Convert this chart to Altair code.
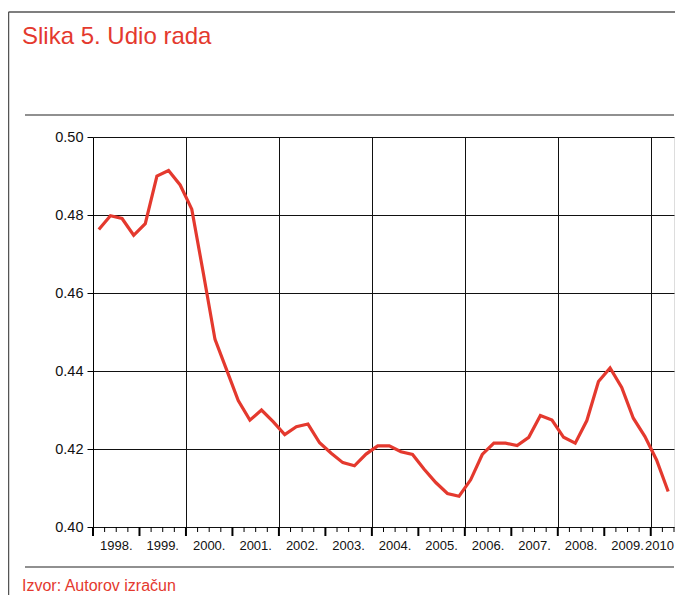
import altair as alt
import pandas as pd

# ---- data (quarterly, 1998 Q1 - 2010 Q2) ----
first_year = 1998
n_quarters = 50
udio = [0.4763, 0.4798, 0.4791, 0.4748, 0.4778, 0.4900, 0.4914, 0.4877, 0.4815, 0.4650,
        0.4481, 0.4403, 0.4324, 0.4274, 0.4300, 0.4270, 0.4237, 0.4257, 0.4264, 0.4216,
        0.4189, 0.4165, 0.4157, 0.4187, 0.4208, 0.4208, 0.4193, 0.4186, 0.4148, 0.4114,
        0.4086, 0.4079, 0.4121, 0.4186, 0.4215, 0.4215, 0.4209, 0.4230, 0.4286, 0.4274,
        0.4230, 0.4215, 0.4273, 0.4373, 0.4408, 0.4358, 0.4279, 0.4232, 0.4172, 0.4091]
years = list(range(1998, 2010))
year_labels = ["1998.", "1999.", "2000.", "2001.", "2002.", "2003.", "2004.",
               "2005.", "2006.", "2007.", "2008.", "2009."]
last_label = "2010"
y_ticks = [0.40, 0.42, 0.44, 0.46, 0.48, 0.50]
grid_years = [2000, 2002, 2004, 2006, 2008, 2010]
x_end = 2010.5

title_text = "Slika 5. Udio rada"
source_text = "Izvor: Autorov izračun"

RED = "#e4392e"
FONT = "Liberation Sans"

W, H = 581, 390

df = pd.DataFrame({
    "t": [first_year + (i + 0.5) / 4 for i in range(n_quarters)],
    "udio": udio,
})

quarter_bounds = [first_year + q / 4 for q in range(int((x_end - first_year) * 4) + 1)]
minor_df = pd.DataFrame({"t": [q for q in quarter_bounds if q != int(q)]})
major_df = pd.DataFrame({"t": [q for q in quarter_bounds if q == int(q)]})
lab_df = pd.DataFrame({"t": [y + 0.5 for y in years], "lab": year_labels})
last_df = pd.DataFrame({"t": [x_end], "lab": [last_label]})

xscale = alt.Scale(domain=[first_year, x_end], nice=False, zero=False)
yscale = alt.Scale(domain=[0.40, 0.50], nice=False, zero=False)

line = alt.Chart(df).mark_line(color=RED, strokeWidth=3.2).encode(
    x=alt.X("t:Q", scale=xscale,
            axis=alt.Axis(values=grid_years, grid=True, gridColor="#111", gridWidth=1,
                          gridOpacity=1, labels=False, ticks=False, domain=False, title=None)),
    y=alt.Y("udio:Q", scale=yscale,
            axis=alt.Axis(values=y_ticks, format=".2f", grid=True, gridColor="#111",
                          gridWidth=1, gridOpacity=1, tickSize=6, tickColor="#000",
                          domainColor="#000", labelFontSize=14.5, labelPadding=4,
                          labelColor="#111", labelFont=FONT, title=None)),
)

minor_ticks = alt.Chart(minor_df).mark_rule(color="#000", strokeWidth=1).encode(
    x=alt.X("t:Q", scale=xscale), y=alt.value(H), y2=alt.value(H + 5))
major_ticks = alt.Chart(major_df).mark_rule(color="#000", strokeWidth=2).encode(
    x=alt.X("t:Q", scale=xscale), y=alt.value(H), y2=alt.value(H + 9))

labels = alt.Chart(lab_df).mark_text(
    fontSize=13, font=FONT, color="#111", align="center", baseline="alphabetic"
).encode(x=alt.X("t:Q", scale=xscale), y=alt.value(H + 23), text="lab:N")
labels_last = alt.Chart(last_df).mark_text(
    fontSize=13, font=FONT, color="#111", align="right", baseline="alphabetic"
).encode(x=alt.X("t:Q", scale=xscale), y=alt.value(H + 23), text="lab:N")

one = pd.DataFrame({"a": [0]})

title = alt.Chart(one).mark_text(
    text=title_text, fontSize=24, font=FONT, color=RED, align="left", baseline="alphabetic"
).encode(x=alt.value(-71), y=alt.value(-93))

source = alt.Chart(one).mark_text(
    text=source_text, fontSize=16, font=FONT, color=RED, align="left", baseline="alphabetic"
).encode(x=alt.value(-71), y=alt.value(454))

rule_top = alt.Chart(one).mark_rule(color="#222", strokeWidth=1.2).encode(
    x=alt.value(-68), x2=alt.value(W), y=alt.value(-22))
rule_bot = alt.Chart(one).mark_rule(color="#222", strokeWidth=1.2).encode(
    x=alt.value(-68), x2=alt.value(W), y=alt.value(430))
frame_top = alt.Chart(one).mark_rule(color="#555", strokeWidth=1.5).encode(
    x=alt.value(-84.5), x2=alt.value(W + 10), y=alt.value(-125))
frame_left = alt.Chart(one).mark_rule(color="#555", strokeWidth=1.5).encode(
    x=alt.value(-84.5), y=alt.value(-125), y2=alt.value(H + 70))

chart = alt.layer(
    line, minor_ticks, major_ticks, labels, labels_last, title, source,
    rule_top, rule_bot, frame_top, frame_left
).properties(
    width=W, height=H,
    autosize=alt.AutoSizeParams(type="none"),
    padding={"left": 85, "top": 129, "right": 1, "bottom": 68},
).configure_view(
    stroke="#000", strokeWidth=1.2
).configure(font=FONT, background="white")

chart.save("out.html", embed_options={"renderer": "svg", "actions": False})
